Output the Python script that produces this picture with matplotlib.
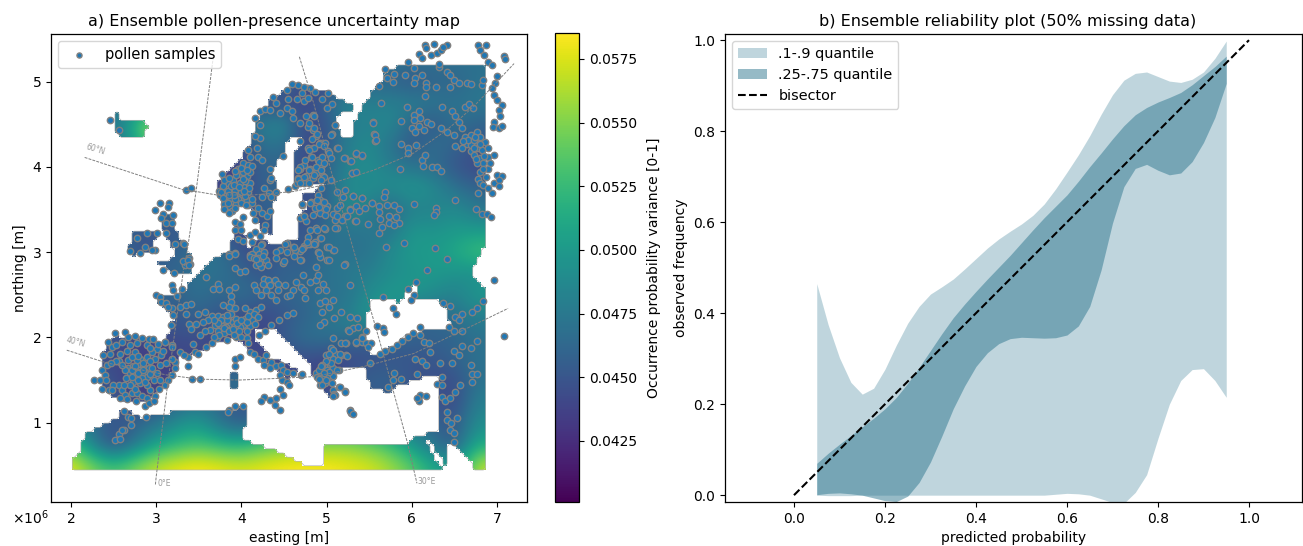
import numpy as np
import matplotlib
matplotlib.use("Agg")
import matplotlib.pyplot as plt
from matplotlib.path import Path

# ---- land outlines, easting / northing in 1e6 m
mainland = [(6.84,5.22),(5.83,5.22),(5.83,5.15),(5.71,5.13),(5.63,4.98),(5.59,4.94),(5.48,4.80),(5.40,4.65),(5.30,4.45),(5.30,4.33),
    (5.20,4.33),(5.09,4.51),(5.11,4.59),(5.30,4.67),(5.31,4.74),(5.16,4.80),(5.05,4.86),(4.89,4.90),(4.61,4.96),(4.34,4.78),(4.22,4.63),
    (4.12,4.31),(3.98,4.08),(3.75,3.88),(3.71,3.69),(3.81,3.47),(3.98,3.52),(4.12,3.52),(4.24,3.26),(4.355,3.18),(4.39,3.36),(4.37,3.53),
    (4.43,3.69),(4.39,3.85),(4.39,4.0),(4.49,4.14),(4.53,4.28),(4.61,4.35),(4.69,4.37),(4.73,4.30),(4.63,4.16),(4.59,3.96),(4.61,3.77),
    (4.84,3.79),(5.06,3.81),(4.84,3.71),(4.71,3.67),(4.79,3.49),(4.69,3.45),(4.69,3.18),(4.45,3.10),(4.18,3.14),(4.10,3.03),(4.04,3.18),
    (4.04,3.34),(3.92,3.36),(3.87,3.0),(3.67,2.93),(3.43,2.67),(3.34,2.56),(3.16,2.48),(3.0,2.5),(3.06,2.36),(3.20,2.24),(3.14,2.03),
    (3.14,1.95),(2.50,2.03),(2.38,1.85),(2.38,1.38),(2.55,1.27),(2.85,1.23),(3.0,1.34),(3.14,1.5),(3.24,1.66),(3.30,1.80),(3.55,1.85),
    (3.75,1.95),(3.94,1.99),(4.04,1.89),(4.26,1.70),(4.41,1.62),(4.53,1.50),(4.58,1.55),(4.68,1.60),(4.53,1.68),(4.34,1.77),(4.14,2.03),
    (4.20,2.10),(4.28,2.11),(4.41,2.09),(4.65,1.85),(4.80,1.66),(4.82,1.58),(4.94,1.46),(5.0,1.30),(5.12,1.30),(5.08,1.46),(5.15,1.62),
    (5.36,1.66),(5.46,1.66),(5.46,1.54),(5.54,1.42),(5.71,1.34),(5.81,1.42),(6.14,1.52),(6.30,1.56),(6.30,1.23),(6.32,0.89),(6.06,0.86),
    (5.93,0.76),(5.75,0.72),(5.55,0.74),(5.26,0.76),(5.05,0.77),(4.99,0.72),(4.99,0.50),(4.83,0.50),(4.64,0.54),(4.41,0.68),(4.21,0.74),
    (4.02,0.80),(4.02,0.91),(4.08,0.99),(4.06,1.11),(4.04,1.19),(3.86,1.15),(3.67,1.17),(3.24,1.15),(3.10,1.09),(2.93,1.07),(2.85,1.05),
    (2.61,1.17),(2.52,1.03),(2.46,1.01),(2.22,0.91),(2.11,0.78),(2.11,0.66),(2.0,0.58),(2.0,0.44),(6.84,0.44),(6.85,2.57),(6.73,2.70),
    (6.72,2.79),(6.73,2.83),(6.85,3.06)]
iceland = [(2.52,4.63),(2.57,4.66),(2.58,4.57),(2.67,4.56),(2.85,4.55),(2.91,4.45),(2.85,4.37),(2.63,4.33),(2.54,4.39),(2.54,4.53)]
britain = [(3.08,3.46),(3.22,3.42),(3.20,3.28),(3.28,3.18),(3.36,3.06),(3.42,2.92),(3.44,2.85),(3.40,2.75),(3.20,2.73),(3.02,2.88),
    (3.20,2.93),(3.19,3.04),(3.12,3.18),(3.04,3.34)]
ireland = [(2.67,3.03),(2.73,3.22),(3.0,3.24),(2.98,3.02),(2.71,2.95)]
sardinia = [(3.89,1.60),(3.96,1.60),(3.96,1.40),(3.89,1.40)]
black_sea = [(5.50,2.32),(5.52,2.44),(5.79,2.46),(5.81,2.36),(5.98,2.59),(6.06,2.68),(6.08,2.59),(6.02,2.44),(6.34,2.42),(6.43,2.28),
    (6.45,2.11),(6.41,2.07),(6.14,2.07),(5.95,2.05),(5.79,1.91),(5.67,1.83),(5.59,1.77),(5.48,1.85),(5.44,2.05),(5.46,2.16)]
red_sea_a = [(6.15,0.79),(6.22,0.79),(6.42,0.44),(6.36,0.44)]
red_sea_b = [(6.44,0.74),(6.49,0.74),(6.73,0.50),(6.73,0.44),(6.42,0.44),(6.44,0.60)]
land_parts = [mainland, iceland, britain, ireland, sardinia]
sea_parts = [black_sea, red_sea_a, red_sea_b]

# ---- occurrence variance, in 1e-3, top row first
field_east = [2.0,2.25,2.5,2.75,3.0,3.25,3.5,3.75,4.0,4.25,4.5,4.75,5.0,5.25,5.5,5.75,6.0,6.25,6.5,6.75,7.0]
field_north = [5.25,5.0,4.75,4.5,4.25,4.0,3.75,3.5,3.25,3.0,2.75,2.5,2.25,2.0,1.75,1.5,1.25,1.0,0.75,0.5]
field_rows = [
    [47,47,47,47,47,47,47,47,47,47,47,47,47,47,47,47.5,47,47,47,47,47],
    [47,47,47,47,47,47,47,47,47,47,47,44,44,45,46,46,45,46,46,47,47],
    [47,47,47,47,47,47,47,47,47,44,44,44,46,49,48,48,48,47.5,47,47.5,47.5],
    [47,47,47,52,58,47,47,47,46,48,49,44,45,48,48,49,46,45,47,46,46],
    [47,47,47,50,55,47,47,46,44,47,47,44,45,48,49,47,45,47,46,45,45],
    [47,47,47,47,47,47,47,44,44,46,46,44,46,48.5,49,48,47,46.5,45,44,44],
    [47,47,47,47,47,47,47,43,43.5,46,46,44,46,49,49,49,50,49,47,46,46],
    [47,47,47,47,47,46,46,43,44,46,46,44,46,49,48,46,48,48,49,47.5,47],
    [47,47,47,45,45,45,46,45,44,45,45,45,47,47,47.5,47,50,49.5,50,50,50],
    [47,47,47,45,45,46,47,47,45,44,46,45,47,47,47,49,50,50,51,53,53],
    [47,47,47,46,46,46,47,47,46,45,46,46,47,47.5,48,49,49.5,50,49.5,49,49],
    [47,47,47,46,46,46,47,46,47,46,46,46.5,47,47,49,50,50,49,48,50,50],
    [46,46,46,46,46,45,46,45,44.5,44,45,46,47,48,50,49.5,46,46,47,48,48],
    [45,45,45,44,44,44.5,44.5,44,44,44,45.5,47,47,47,46,46,46,46,46,47,47],
    [45,45,44,43.5,43.5,44,44,44,44,44,44,44.5,44,44,44.5,45,45,45,46,47,47],
    [45,45,45,43,43.5,43.5,44,46,48,46,44,44,43.5,45,46,46,45,44.5,44.5,47,47],
    [45,45,45,44,44,46,47,46,45,45,45,45,45,45,45,45,45,45,44,48,48],
    [49,47,45,46,47,49,50,47,45,47,48,49,50,50,49,48,47,46,45,49,49],
    [53,48,44,47,50.5,52,53,52,51.5,53,54,55,55,55,54,52.5,49.5,47,45,51,51],
    [58,55,53,55,57,58,58.5,58,57.5,58,58.5,58.5,58.5,58,57.5,56,54,51,50,56,58],
]

# ---- graticule traces
lat60_e = [2.16,3.32,3.47,3.71,4.14,4.61,5.07,5.55,6.02,6.41,6.73,7.20]
lat60_n = [4.11,3.73,3.71,3.67,3.67,3.71,3.81,3.96,4.16,4.43,4.71,5.21]
lat40_e = [1.95,2.42,3.12,3.51,3.98,4.45,4.85,5.44,6.02,6.53,7.13]
lat40_n = [1.85,1.70,1.56,1.51,1.50,1.52,1.54,1.66,1.81,2.05,2.34]
lon0_e = [3.67,3.47,3.36,3.32,3.14,3.0,2.99]
lon0_n = [5.29,3.73,2.99,2.79,1.50,0.37,0.27]
lon30_e = [4.68,4.85,5.05,5.38,5.63,5.95,6.06]
lon30_n = [5.29,4.74,3.96,2.80,1.93,0.76,0.29]

# ---- pollen sample sites by region
scandinavia = [(3.79,3.73),(3.83,3.81),(3.77,3.91),(3.90,3.85),(3.96,3.97),(4.02,4.04),(4.08,4.02),(4.12,4.01),(4.00,3.91),(4.06,3.89),
    (3.87,3.69),(3.75,3.67),(3.81,3.61),(3.90,3.59),(3.96,3.69),(4.02,3.77),(4.08,3.71),(4.10,3.81),(3.98,3.81),(3.92,3.73),(3.85,3.54),
    (3.89,3.48),(3.79,3.56),(3.94,3.56),(4.0,3.61),(4.06,3.61),(4.08,3.55),(4.12,3.57),(4.14,3.46),(4.20,3.52),(4.16,3.38),(4.24,3.46),
    (4.30,3.42),(4.28,3.32),(4.33,3.48),(4.24,3.65),(4.32,3.69),(4.35,3.65),(4.41,3.71),(4.20,4.12),(4.18,4.22),(4.10,4.12),(4.22,4.34),
    (4.16,4.36),(4.08,4.20),(4.24,4.08),(4.33,3.97),(4.33,3.85),(4.35,3.87),(4.26,3.75),(4.22,4.49),(4.16,4.57),(4.22,4.66),(4.28,4.68),
    (4.33,4.67),(4.37,4.82),(4.41,4.75),(4.45,4.63),(4.53,4.69),(4.59,4.65),(4.61,4.57),(4.55,4.79),(4.53,4.90),(4.59,4.97),(4.67,4.96),
    (4.74,4.93),(4.80,4.92),(4.86,4.88),(4.71,4.86),(4.65,4.79),(4.73,4.77),(4.78,4.81),(4.69,4.51),(4.76,4.59),(4.84,4.61),(4.78,4.47),
    (4.84,4.43),(4.88,4.36),(4.92,4.28),(4.98,4.28),(4.84,4.22),(5.02,4.18),(4.78,4.22),(4.82,4.12),(4.90,4.08),(4.94,4.02),(4.74,4.02),
    (4.80,3.97),(4.88,3.93),(4.96,3.89),(4.69,3.97),(4.67,3.87),(4.76,3.89),(4.74,3.81),(4.84,3.87),(4.63,3.77),(4.65,3.81),(4.55,3.74),
    (4.49,4.13),(4.69,4.30),(5.06,4.38),(5.12,4.22),(5.21,4.10),(5.27,4.07),(5.35,4.15),(5.41,4.13),(5.54,4.52),(5.56,4.38),(5.57,4.30),
    (5.30,3.93),(4.94,4.79),(5.0,4.69),(5.06,4.74),(5.02,4.86),(5.10,4.49),(3.84,3.72),(3.78,3.78),(3.86,3.62),(3.92,3.52),(3.99,3.70),
    (4.04,3.83),(4.02,3.94),(3.94,3.90),(3.88,3.77),(3.82,3.66),(3.74,3.72),(3.80,3.84),(3.96,3.62),(4.04,3.66),(4.10,3.94),
    (3.76,3.70),(3.78,3.64),(3.84,3.58),(3.80,3.50),(3.86,3.46),(3.93,3.62),(3.99,3.58),(3.91,3.79),(3.85,3.87),(3.93,3.95),(4.0,3.99),
    (4.06,3.96),(4.02,3.86),(4.09,3.75),(3.97,3.76),(4.03,3.72),(4.13,3.62),(4.05,3.55),(3.91,3.67),(3.85,3.67)]
baltic = [(4.90,3.67),(4.92,3.61),(4.82,3.59),(4.86,3.52),(4.96,3.59),(5.0,3.54),(4.92,3.46),(4.84,3.44),(4.98,3.44),(5.10,3.38),(5.12,3.52),
    (5.16,3.55),(5.19,3.65),(5.31,3.66),(5.41,3.64),(5.53,3.58),(5.12,3.71),(5.21,3.42),(5.27,3.50),(5.35,3.54),(5.45,3.52),(5.33,3.36),
    (5.49,3.33),(4.69,3.40),(4.73,3.42),(4.71,3.55),(4.76,3.36),(4.88,3.28),(4.98,3.27),(5.12,3.28),(4.78,3.18),(4.86,3.10),(4.92,3.16),
    (4.80,3.10),(4.74,3.07),(4.69,3.01),(4.53,3.11),(4.63,3.03),(4.45,3.03),(3.92,3.35),(3.98,3.33),(3.92,3.26),(4.0,3.26),(3.96,3.15),
    (4.02,3.13),(4.02,3.41),(4.10,3.20),(4.16,3.23),(4.22,3.19),(4.24,3.09),(4.26,3.26),(4.12,3.12),(4.20,3.03),(4.16,2.99),(4.10,2.97),
    (4.26,2.99),(3.85,2.98),(3.92,2.99)]
british_isles = [(3.05,3.57),(3.15,3.57),(3.14,3.53),(2.98,3.49),(3.08,3.45),(3.20,3.43),(3.06,3.40),(3.12,3.34),(3.18,3.34),(3.12,3.22),
    (2.77,3.16),(2.89,3.22),(3.01,3.22),(2.87,3.06),(2.99,3.02),(2.69,3.01),(2.81,2.99),(2.95,3.03),(3.32,3.11),(3.38,2.93),(3.34,2.85),
    (3.40,2.86),(3.35,3.73),(3.41,3.75),(2.46,4.55),(2.56,4.43),(3.08,2.79),(3.21,2.75),(3.32,2.89),(3.37,2.91),(3.39,2.85),(3.33,3.10),
    (3.22,3.10)]
france_alps = [(3.0,2.50),(3.04,2.47),(3.06,2.42),(3.12,2.40),(3.18,2.61),(3.20,2.55),(3.24,2.48),(3.30,2.57),(3.28,2.36),(3.35,2.38),
    (3.41,2.39),(3.35,2.28),(3.18,2.34),(3.14,2.36),(3.20,2.26),(3.17,2.14),(3.49,2.28),(3.57,2.30),(3.59,2.71),(3.67,2.57),(3.73,2.63),
    (3.74,2.57),(3.85,2.55),(3.92,2.59),(3.88,2.48),(3.88,2.42),(3.78,2.38),(3.86,2.36),(3.93,2.34),(4.04,2.34),(4.10,2.30),(4.17,2.32),
    (4.23,2.36),(3.65,2.25),(3.73,2.25),(3.78,2.24),(3.84,2.22),(3.88,2.27),(3.80,2.18),(3.86,2.16),(3.76,2.14),(3.82,2.12),(3.90,2.18),
    (3.94,2.22),(3.69,2.14),(3.63,2.09),(3.73,2.07),(3.80,2.05),(3.86,2.09),(4.04,2.22),(4.12,2.20),(4.02,2.14),(4.15,2.28),(4.10,2.13),
    (4.06,2.07),(3.98,2.12),(3.92,2.13),(3.39,2.16),(3.47,2.16),(3.41,2.10),(3.51,2.03),(3.57,2.07),(3.71,1.99),(3.65,1.93),(3.59,1.89),
    (3.43,1.92),(3.45,1.83),(3.49,1.81),(3.28,1.83),(3.37,1.77),(3.33,1.79),(3.22,1.71),(3.18,1.75),(3.37,1.67),(3.94,2.01),(4.0,2.01),
    (4.06,1.99),(4.08,1.93),(4.21,2.03),(4.28,2.07),(4.35,2.14),(4.44,2.20),(3.10,1.95),(3.18,1.91),(3.83,2.20),(3.79,2.11),(3.85,2.07),
    (3.76,2.20),(3.90,2.10),(3.72,2.17),(3.68,2.20),(3.83,2.26),(3.95,2.17),(3.99,2.20),(3.74,2.03),(3.83,1.97),(3.68,2.01),(3.61,2.20),
    (3.55,2.18),(4.06,2.18),(4.08,2.25),(3.97,2.07),(3.91,2.03),(4.16,2.16),(4.20,2.24)]
italy_sicily = [(4.10,1.83),(4.15,1.81),(4.19,1.75),(4.25,1.73),(4.29,1.79),(4.35,1.71),(4.27,1.68),(4.33,1.64),(4.41,1.66),(4.47,1.68),
    (4.49,1.62),(4.45,1.56),(4.53,1.60),(4.48,1.50),(4.53,1.48),(4.56,1.44),(4.45,1.39),(4.49,1.32),(4.70,1.56),(4.60,1.58),(4.27,1.30),
    (4.23,1.25),(4.33,1.27),(4.41,1.29),(4.39,1.21),(4.45,1.15),(3.92,1.75),(3.98,1.77),(3.92,1.67),(3.85,1.15),(3.92,1.19),(4.02,1.20),
    (3.84,1.13)]
central_europe = [(3.86,2.96),(3.92,2.98),(4.12,2.98),(4.17,3.04),(4.23,3.08),(4.10,2.94),(4.15,2.93),(4.21,2.98),(4.27,3.0),(4.17,2.85),
    (4.23,2.91),(4.29,2.91),(4.23,2.83),(4.31,2.85),(4.41,3.0),(4.53,3.0),(4.51,3.10),(4.60,3.06),(4.41,2.93),(4.49,2.87),(4.70,2.91),
    (4.72,3.05),(4.78,3.10),(4.90,3.0),(5.01,2.91),(5.01,3.06),(5.07,3.02),(5.21,2.86),(4.92,2.94),(4.86,3.12),(3.92,2.81),(3.98,2.77),
    (4.04,2.78),(4.15,2.61),(4.17,2.55),(4.23,2.50),(4.27,2.69),(4.31,2.67),(4.25,2.63),(4.33,2.61),(4.39,2.67),(4.43,2.63),(4.29,2.55),
    (4.35,2.50),(4.41,2.44),(4.43,2.55),(4.51,2.61),(4.53,2.48),(4.60,2.55),(4.57,2.50),(4.64,2.65),(4.72,2.73),(4.70,2.59),(4.74,2.55),
    (4.80,2.65),(4.87,2.67),(4.90,2.73),(4.96,2.63),(4.90,2.56),(4.99,2.56),(4.75,2.46),(4.92,2.40),(4.98,2.43),(5.07,2.44),(5.03,2.36),
    (4.95,2.30),(5.17,2.30),(5.09,2.23),(5.27,2.61),(5.27,2.24),(5.36,2.23),(4.97,2.18),(4.92,2.14),(4.53,2.26),(4.60,2.29),(5.25,2.09),
    (5.31,2.11),(5.37,2.12),(5.07,1.99),(5.17,1.93),(5.23,1.93),(5.35,1.94),(5.41,2.01),(5.42,1.95),(5.46,1.93),(4.21,2.87),(4.19,2.93),
    (4.25,2.96),(4.17,2.92)]
balkans = [(5.05,1.87),(5.11,1.81),(5.17,1.79),(5.23,1.79),(4.99,1.79),(5.07,1.75),(5.13,1.73),(5.03,1.69),(4.96,1.66),(4.92,1.60),(4.99,1.60),
    (5.07,1.64),(5.15,1.62),(4.88,1.58),(4.94,1.54),(5.01,1.54),(4.98,1.46),(4.92,1.44),(5.07,1.38),(5.15,1.42),(5.21,1.37),(5.09,1.34),
    (5.27,1.15),(5.29,1.11),(4.97,1.66),(5.05,1.70),(5.12,1.62),(4.93,1.56),(5.08,1.55),(4.95,1.44),(5.16,1.42),(5.22,1.36),(5.10,1.32),
    (5.07,1.31),(5.34,1.95),(5.42,1.99),(5.46,2.08),(5.52,1.93),(5.48,1.89),(5.26,2.08),(5.08,1.85),(5.22,1.93),(5.03,1.81),(5.16,1.81),
    (4.99,1.72),(5.24,1.78),(4.71,1.57),(4.91,1.62),(4.89,1.54),(5.01,1.62),(4.95,1.68),(4.96,1.53),(4.91,1.51),(5.03,1.59),(4.97,1.58),
    (4.93,1.66),(4.99,1.50),(5.06,1.47)]
iberia = [(2.52,2.05),(2.63,2.06),(2.67,2.01),(2.75,2.02),(2.83,1.99),(2.91,1.98),(2.96,1.98),(3.10,1.95),(2.43,1.95),(2.48,1.89),(2.53,1.91),
    (2.60,1.95),(2.69,1.91),(2.77,1.93),(2.75,1.83),(2.89,1.91),(3.01,1.86),(2.95,1.83),(3.18,1.89),(2.46,1.81),(2.38,1.79),(2.56,1.72),
    (2.67,1.74),(2.81,1.75),(2.89,1.77),(2.99,1.75),(3.06,1.79),(2.42,1.68),(2.36,1.62),(2.40,1.56),(2.27,1.50),(2.34,1.50),(2.41,1.50),
    (2.36,1.40),(2.44,1.38),(2.56,1.44),(2.60,1.38),(2.63,1.32),(2.58,1.29),(2.71,1.35),(2.77,1.35),(2.83,1.31),(2.89,1.29),(2.93,1.38),
    (2.99,1.31),(2.87,1.19),(2.91,1.23),(3.03,1.40),(3.10,1.44),(3.14,1.50),(3.18,1.56),(3.22,1.64),(3.18,1.75),(3.12,1.70),(3.05,1.68),
    (2.93,1.72),(2.67,1.64),(2.73,1.66),(2.79,1.68),(2.85,1.66),(2.91,1.64),(2.69,1.58),(2.75,1.60),(2.81,1.62),(2.87,1.60),(2.77,1.54),
    (2.83,1.56),(2.89,1.54),(2.65,1.52),(2.73,1.48),(2.81,1.46),(2.63,1.62),(2.60,1.68),(2.77,1.74),(2.71,1.77),(3.01,1.58),(2.97,1.50),
    (2.89,1.44),(2.75,1.40),(2.69,1.44),(3.05,1.50),(3.42,1.51),(3.51,1.51),(2.71,1.62),(2.79,1.58),(2.85,1.62),(2.75,1.66),(2.83,1.52),
    (2.71,1.54),(2.79,1.50),(2.87,1.48),(2.93,1.57),(2.95,1.64),(2.85,1.70),(2.79,1.78),(2.66,1.84),(2.58,1.80),(2.53,1.72),(2.93,1.87),
    (3.02,1.92),(3.08,1.84),(2.47,1.70),(2.62,1.44),(2.66,1.28),(2.76,1.25),(2.97,1.25),(2.49,1.44),(2.48,1.38)]
morocco = [(2.62,1.14),(2.67,1.07),(2.70,1.06),(2.88,1.07),(2.70,0.97),(2.62,0.92),(2.56,0.87),(2.52,0.80),(2.58,0.81),(2.60,0.92)]
russia_north = [(5.96,5.23),(6.02,5.16),(5.92,5.08),(6.04,5.04),(6.12,5.08),(6.02,4.98),(6.17,4.98),(6.17,4.94),(6.28,4.94),(6.45,4.94),(6.49,5.02),
    (6.41,5.11),(6.45,5.08),(6.55,4.98),(6.65,4.98),(6.69,4.97),(6.82,4.96),(6.84,5.02),(6.32,5.17),(6.32,5.21),(5.71,5.04),(5.69,5.15),
    (5.79,5.09),(5.78,5.0),(5.61,4.95),(6.16,4.83),(5.64,4.75),(6.35,4.70),(6.63,4.70),(6.67,4.74),(6.72,4.69),(6.15,5.43),(6.26,5.44),
    (6.17,5.39),(6.08,5.32),(6.12,5.27),(6.22,5.31),(6.30,5.33),(6.34,5.37),(6.41,5.43),(6.37,5.41),(6.78,5.43),(6.87,5.43),(6.80,5.37),
    (6.85,5.31),(6.89,5.23),(6.94,5.19),(7.0,5.06),(6.98,4.98),(7.08,5.30),(7.09,5.26),(6.94,4.92),(6.96,4.84),(7.0,4.78),(7.06,4.72),
    (7.02,4.67),(7.04,4.59),(6.96,4.53),(6.95,4.47),(7.02,4.46),(7.06,4.48)]
russia_central = [(5.94,4.70),(6.02,4.61),(6.08,4.65),(6.02,4.55),(5.87,4.54),(6.10,4.57),(6.18,4.53),(6.22,4.50),(6.08,4.48),(6.0,4.45),(6.14,4.43),
    (6.04,4.41),(5.55,4.51),(5.57,4.37),(5.58,4.31),(5.87,4.27),(5.96,4.22),(6.05,4.26),(5.96,4.16),(5.35,4.16),(5.42,4.14),(5.20,4.10),
    (5.29,4.07),(5.13,4.22),(5.05,4.37),(5.10,4.49),(6.12,4.08),(6.16,4.14),(6.13,4.01),(6.24,4.0),(6.30,4.0),(6.34,3.95),(5.86,3.98),
    (5.30,3.93),(5.34,3.94),(6.02,3.56),(6.51,3.61),(6.75,3.51),(6.82,3.45),(6.88,3.45),(6.93,3.41),(6.28,3.52),(6.28,3.47),(6.26,3.43),
    (5.53,3.58),(5.69,3.70),(5.67,3.65),(5.62,3.54),(5.71,3.55),(5.79,3.55),(5.85,3.51),(5.61,3.47),(5.63,3.39),(5.73,3.42),(5.81,3.41),
    (5.73,3.34),(5.85,3.34),(5.79,3.32),(5.65,3.29),(5.62,3.22),(5.91,3.11),(5.70,3.06),(6.27,3.05),(6.41,2.92),(6.18,2.79),(5.34,3.36),
    (5.28,3.49),(5.38,3.48),(5.42,3.64),(5.31,3.66),(5.21,3.73),(4.93,3.75),(4.97,3.59),(4.89,3.61),(4.91,3.53),(4.99,3.51),(4.81,3.57),
    (4.71,3.56),(4.73,3.42),(5.07,3.45),(5.12,3.42),(5.18,3.38),(5.24,3.42),(5.10,3.28),(4.97,3.28),(4.89,3.26),(4.81,3.26),(4.77,3.12),
    (4.71,3.04),(4.62,3.06),(4.85,3.10),(4.93,3.16),(5.03,3.06),(5.09,3.02),(4.91,2.99),(5.03,2.91),(5.20,2.85),(4.87,2.82),(4.62,2.95),
    (4.69,2.91),(4.50,2.89)]
urals = [(6.47,4.65),(6.51,4.59),(6.34,4.46),(6.41,4.41),(6.49,4.37),(6.55,4.53),(6.59,4.45),(6.63,4.35),(6.69,4.37),(6.77,4.41),(6.80,4.35),
    (6.86,4.29),(6.75,4.29),(6.65,4.27),(6.51,4.24),(6.59,4.22),(6.69,4.18),(6.77,4.22),(6.82,4.20),(6.90,4.22),(6.96,4.14),(6.90,4.12),
    (6.80,4.10),(6.73,4.14),(6.84,4.04),(6.77,4.04),(6.92,4.04),(6.80,3.94),(6.90,3.98),(7.0,3.90),(7.06,3.89),(6.78,3.86),(6.80,3.81),
    (6.96,3.81),(7.02,3.84),(6.84,3.79),(6.90,3.75),(6.94,3.69),(7.02,3.77),(6.78,3.69),(6.70,4.26),(6.73,4.22),(6.66,4.32),(6.80,4.27),
    (6.73,4.31),(6.75,4.09),(6.85,4.13),(6.83,3.97),(6.87,3.88),(6.74,4.35),(6.60,4.30)]
turkey_caucasus = [(6.96,2.67),(6.84,2.43),(6.37,2.40),(6.45,2.37),(6.51,2.24),(6.59,2.28),(6.55,2.20),(6.71,2.30),(6.76,2.34),(6.44,2.12),(6.49,2.07),
    (6.59,2.08),(6.10,2.12),(6.01,2.05),(5.95,2.01),(5.89,1.96),(5.83,1.91),(5.77,1.86),(5.68,1.84),(5.63,1.81),(5.51,1.70),(6.10,2.03),
    (6.14,1.95),(6.20,1.93),(6.21,1.83),(6.49,1.84),(6.55,1.79),(6.59,1.90),(6.69,1.88),(6.76,1.96),(6.04,1.75),(6.12,1.72),(6.17,1.68),
    (6.33,1.70),(6.47,1.70),(5.79,1.58),(5.78,1.50),(5.87,1.51),(5.72,1.42),(6.06,1.57),(6.69,1.68),(6.71,1.57),(6.76,1.57),(6.71,1.48),
    (6.36,1.54),(6.29,1.45),(6.35,1.44),(6.56,1.44),(6.10,1.32),(6.17,1.31),(6.08,1.25),(6.06,1.29),(6.35,1.30),(6.39,1.25),(6.45,1.29),
    (6.51,1.36),(6.41,1.12),(6.53,1.06),(6.41,1.03),(6.46,1.0),(6.45,0.91),(6.49,0.88),(6.50,0.77),(5.28,1.14),(5.31,1.10),(7.08,2.02),
    (5.59,2.13),(5.66,2.11),(5.67,2.06),(5.78,2.34),(5.81,2.28),(5.95,2.57),(6.02,2.50),(5.99,2.44),(6.05,2.65),(5.66,2.47)]
finland_east = [(4.85,4.59),(4.79,4.51),(4.85,4.45),(4.89,4.39),(4.83,4.33),(4.91,4.27),(4.97,4.24),(4.85,4.22),(4.79,4.20),(5.03,4.16),(5.05,4.10),
    (4.95,4.12),(4.83,4.12),(4.91,4.06),(4.75,4.08),(4.97,4.04),(4.87,4.0),(4.93,3.96),(4.79,3.96),(4.69,4.0),(4.66,3.96),(4.73,3.88),
    (4.66,3.86),(4.85,3.90),(4.97,3.88),(5.05,3.85),(4.79,3.81),(4.69,3.81),(4.93,3.85)]
sample_regions = [scandinavia, baltic, british_isles, france_alps, italy_sicily, central_europe, balkans, iberia, morocco,
    russia_north, russia_central, urals, turkey_caucasus, finland_east]

# ---- reliability curves
pred_prob = [.05,.075,.1,.125,.15,.175,.2,.225,.25,.275,.3,.325,.35,.375,.4,.425,.45,.475,.5,.525,.55,.575,.6,.625,.65,.675,.7,.725,.75,.775,.8,.825,.85,.875,.9,.925,.95]
q90 = [.465,.375,.302,.248,.222,.235,.277,.330,.378,.415,.442,.458,.475,.497,.520,.543,.563,.580,.596,.615,.640,.673,.710,.748,.790,.837,.880,.912,.927,.930,.920,.910,.907,.914,.930,.960,.998]
q75 = [.070,.092,.112,.131,.150,.169,.190,.215,.246,.281,.318,.355,.390,.420,.448,.475,.501,.527,.555,.583,.610,.635,.660,.690,.722,.752,.783,.812,.836,.852,.864,.874,.885,.902,.922,.942,.965]
q25 = [.001,.004,.005,.003,.000,-.006,-.012,-.014,-.002,.028,.073,.130,.190,.240,.283,.313,.333,.344,.347,.346,.345,.346,.352,.372,.415,.495,.598,.678,.718,.727,.714,.704,.708,.733,.775,.830,.905]
q10 = [.000,-.001,-.001,-.001,.000,.000,.000,.000,.000,.000,.000,.000,.000,.000,.000,.000,.000,.000,.000,.000,.000,.002,.004,.003,.000,-.008,-.016,-.018,.006,.045,.125,.200,.252,.276,.278,.252,.215]


def px_axes(fig, left, top, right, bottom):
    W, H = fig.get_size_inches() * fig.dpi
    return fig.add_axes([left / W, 1 - bottom / H, (right - left) / W, (bottom - top) / H])


plt.rcParams['font.size'] = 10
plt.rcParams['axes.linewidth'] = 0.9
fig = plt.figure(figsize=(13.03, 5.46), dpi=100)

# a) uncertainty map
ax = px_axes(fig, 51, 34, 527, 502)
x_lim = (1.765, 7.352)
y_lim = (0.07, 5.557)
step = 0.25
im = ax.imshow(np.array(field_rows) * 1e-3, cmap='viridis', vmin=0.0401, vmax=0.05852, interpolation='bicubic',
               extent=(field_east[0] - step / 2, field_east[-1] + step / 2, field_north[-1] - step / 2, field_north[0] + step / 2),
               aspect='auto', zorder=1)

# white out the sea on a coarse raster so the coast stays blocky
cell = 0.05
cx = np.arange(x_lim[0], x_lim[1], cell)
cy = np.arange(0.045, y_lim[1], cell)
gx, gy = np.meshgrid(cx + cell / 2, cy + cell / 2)
pts = np.column_stack([gx.ravel(), gy.ravel()])
land = np.zeros(len(pts), dtype=bool)
for part in land_parts:
    land |= Path(part).contains_points(pts)
for part in sea_parts:
    land &= ~Path(part).contains_points(pts)
land = land.reshape(gx.shape)
sea = np.ones(land.shape + (4,))
sea[..., 3] = (~land).astype(float)
ax.imshow(sea, origin='lower', interpolation='nearest', aspect='auto', zorder=2,
          extent=(cx[0], cx[-1] + cell, cy[0], cy[-1] + cell))
ax.contour(gx, gy, land.astype(float), levels=[0.5], colors='#b5b5b5', linewidths=0.5, zorder=2.5)

for lon, lat in [(lat60_e, lat60_n), (lat40_e, lat40_n), (lon0_e, lon0_n), (lon30_e, lon30_n)]:
    ax.plot(lon, lat, color='gray', lw=0.7, ls=(0, (3, 1.2)), zorder=4)
ax.text(2.16, 4.14, '60°N', fontsize=5.5, color='#999999', rotation=-17, zorder=4)
ax.text(1.93, 1.89, '40°N', fontsize=5.5, color='#999999', rotation=-15, zorder=4)
ax.text(3.02, 0.26, '0°E', fontsize=5.5, color='#999999', zorder=4)
ax.text(6.07, 0.28, '30°E', fontsize=5.5, color='#999999', zorder=4)

samples = np.array([p for region in sample_regions for p in region])
ax.scatter(samples[:, 0], samples[:, 1], s=21, c='tab:blue', edgecolors='gray', linewidths=1, zorder=3, label='pollen samples')

ax.set_xlim(x_lim)
ax.set_ylim(y_lim)
ax.set_xticks([2, 3, 4, 5, 6, 7])
ax.set_yticks([1, 2, 3, 4, 5])
ax.set_xlabel('easting [m]')
ax.set_ylabel('northing [m]')
ax.set_title('a) Ensemble pollen-presence uncertainty map', fontsize=11.55, x=0.4695)
ax.legend(loc='upper left', fontsize=10.5, markerscale=0.8)
fig.text(12 / 1303, 1 - 518 / 546, r'$\times 10^{6}$', fontsize=10, va='center')

cax = px_axes(fig, 555, 33, 579, 502)
cb = fig.colorbar(im, cax=cax, format='%.4f')
cb.set_ticks([0.0425, 0.045, 0.0475, 0.05, 0.0525, 0.055, 0.0575])
cb.set_label('Occurrence probability variance [0-1]', labelpad=7)

# b) reliability plot
ax2 = px_axes(fig, 725, 34, 1302, 502)
ax2.fill_between(pred_prob, q10, q90, color='#2e778f', alpha=0.3, lw=0, label='.1-.9 quantile')
ax2.fill_between(pred_prob, q25, q75, color='#2e778f', alpha=0.5, lw=0, label='.25-.75 quantile')
ax2.plot([0, 1], [0, 1], 'k--', label='bisector')
ax2.set_xlim(-0.1516, 1.1165)
ax2.set_ylim(-0.015, 1.0135)
ax2.set_xlabel('predicted probability')
ax2.set_ylabel('observed frequency')
ax2.set_title('b) Ensemble reliability plot (50% missing data)', fontsize=11.55, x=0.4896)
ax2.legend(loc='upper left', fontsize=10.4)

fig.savefig('out.png', dpi=100)
